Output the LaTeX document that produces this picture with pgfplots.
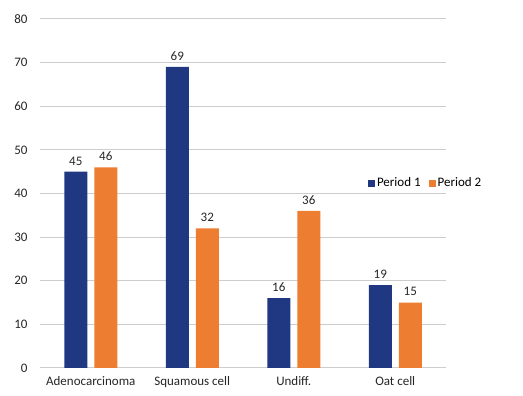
\documentclass[border=0pt]{standalone}
\usepackage{pgfplots}
\pgfplotsset{compat=1.18}
\usepackage{fontspec}
\setmainfont{Carlito}
\definecolor{pone}{RGB}{32,56,130}
\definecolor{ptwo}{RGB}{237,125,49}
\definecolor{gridc}{RGB}{205,205,205}
\begin{document}
\begin{tikzpicture}[x=1pt,y=1pt]
\path[use as bounding box] (0,0) rectangle (523,396);
\begin{axis}[
  at={(40pt,28pt)}, anchor=south west,
  scale only axis, width=406pt, height=349pt,
  ybar, bar width=23pt,
  ymin=0, ymax=80, ytick distance=10,
  xmin=-0.5, xmax=3.5,
  xtick={0,1,2,3},
  xticklabels={Adenocarcinoma,Squamous cell,Undiff.,Oat cell},
  ymajorgrids, grid style={gridc, line width=1pt},
  axis lines*=left,
  x axis line style={gridc, line width=1pt, -},
  y axis line style={draw=none},
  tick style={draw=none},
  /pgf/number format/assume math mode=true,
  ticklabel style={font=\fontsize{13}{15}\selectfont, text=black!85},
  xticklabel style={yshift=-1pt},
  yticklabel style={xshift=-9pt},
  nodes near coords,
  every node near coord/.append style={font=\fontsize{13}{15}\selectfont, text=black!85, yshift=3pt},
  legend style={draw=none, fill=none, at={(0.80,0.53)}, anchor=west,
    font=\fontsize{13}{15}\selectfont, legend columns=2,
    /tikz/every even column/.append style={column sep=6pt}},
  legend image code/.code={\fill[#1] (0pt,-3.5pt) rectangle (7pt,3.5pt);},
]
\addplot[fill=pone, draw=none, bar shift=-15pt] coordinates {(0,45) (1,69) (2,16) (3,19)};
\addplot[fill=ptwo, draw=none, bar shift=15pt] coordinates {(0,46) (1,32) (2,36) (3,15)};
\legend{Period 1, Period 2}
\end{axis}
\end{tikzpicture}
\end{document}
